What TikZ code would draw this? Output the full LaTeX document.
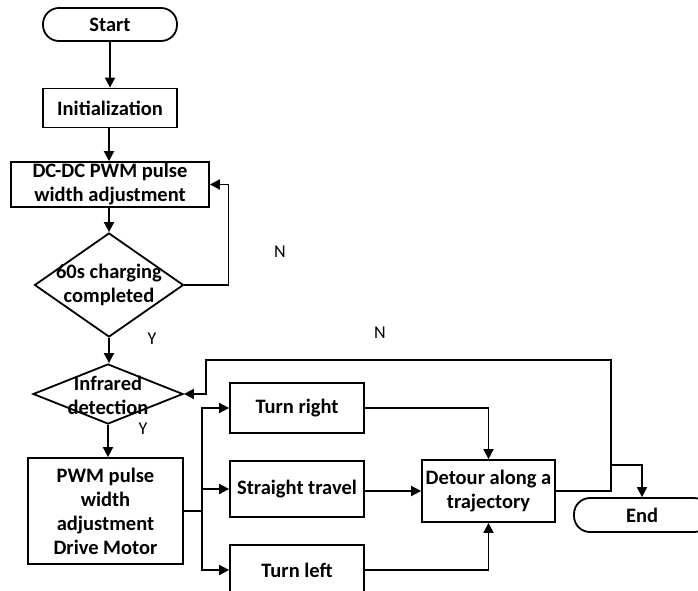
\documentclass[tikz,border=0pt]{standalone}
\usepackage{fontspec}
\setmainfont{Carlito}
\usetikzlibrary{arrows.meta,shapes.geometric}
\begin{document}
\begin{tikzpicture}[x=1pt,y=-1pt,
  txt/.style={inner sep=0pt, align=center, font=\fontsize{20.5}{24}\selectfont\bfseries},
  proc/.style={txt, draw, line width=1.8pt, rectangle},
  term/.style={txt, draw, line width=1.8pt, rounded corners=16pt},
  dia/.style={draw, line width=1.8pt, diamond, inner sep=0pt},
  lbl/.style={inner sep=0pt, font=\fontsize{18}{20}\selectfont},
  wire/.style={line width=1.8pt},
  conn/.style={line width=1.8pt, -{Triangle[length=10pt,width=10pt]}}]
\useasboundingbox (0,0) rectangle (698,591);
% nodes
\node[term, minimum width=134pt, minimum height=33pt] (start) at (110,24.5) {Start};
\node[proc, minimum width=134pt, minimum height=39pt] (init) at (110,108) {Initialization};
\node[proc, minimum width=198pt, minimum height=45pt] (dc) at (110,184.5) {DC-DC PWM pulse\\width adjustment};
\node[dia, minimum width=149pt, minimum height=104pt] (d1) at (109,285) {};
\node[txt] (d1t) at (109,285) {60s charging\\completed};
\node[dia, minimum width=150pt, minimum height=60pt] (d2) at (108,394) {};
\node[txt] (d2t) at (108,395) {Infrared\\detection};
\node[proc, minimum width=155pt, minimum height=106pt] (pwm) at (105.5,511) {PWM pulse\\width\\adjustment\\Drive Motor};
\node[proc, minimum width=134pt, minimum height=50pt] (tr) at (297,408) {Turn right};
\node[proc, minimum width=134pt, minimum height=56pt] (st) at (297,489) {Straight travel};
\node[proc, minimum width=134pt, minimum height=50pt] (tl) at (297,570) {Turn left};
\node[proc, minimum width=133pt, minimum height=62pt] (det) at (488.5,491) {Detour along a\\trajectory};
\node[term, minimum width=136pt, minimum height=34pt] (end) at (642,515) {End};
% labels
\node[lbl] (n1) at (280,252) {N};
\node[lbl] (n2) at (380,333) {N};
\node[lbl] (y1) at (152,339) {Y};
\node[lbl] (y2) at (143,429) {Y};
% connectors
\draw[conn] (start) -- (init);
\draw[conn] (init.south -| d1.north) -- (d1.north |- dc.north);
\draw[conn] (d1.north |- dc.south) -- (d1.north);
\draw[conn] (d1.south) -- (d1.south |- d2.north);
\draw[conn] (d2.south) -- (d2.south |- pwm.north);
\draw[conn] (d1.east) -- ++(44,0) |- (dc.east);
\coordinate (jp) at (202,511);
\draw[wire] (pwm.east) -- (jp);
\draw[conn] (jp) |- (tr.west);
\draw[conn] (jp) |- (st.west);
\draw[conn] (jp) |- (tl.west);
\draw[conn] (tr.east) -| (det.north);
\draw[conn] (st.east |- det.west) -- (det.west);
\draw[conn] (tl.east) -| (det.south);
\coordinate (jr) at (611,491);
\coordinate (lt) at (206,360);
\draw[conn] (det.east) -- (jr) |- (lt) |- (d2.east);
\coordinate (je) at (611,465);
\draw[conn] (je) -| (end.north);
\end{tikzpicture}
\end{document}
